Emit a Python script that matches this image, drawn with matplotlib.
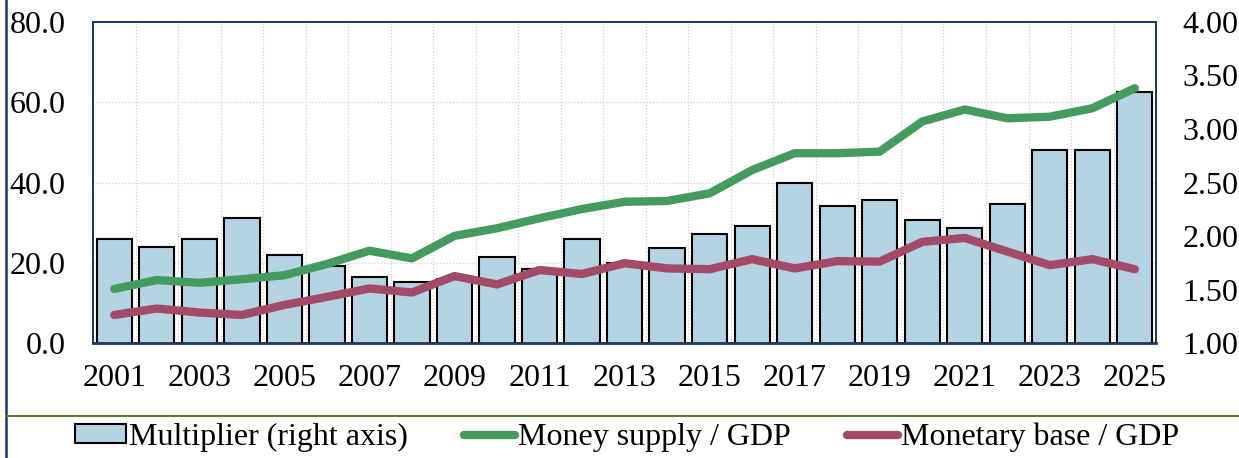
import matplotlib.pyplot as plt
import matplotlib.transforms as mtransforms
from matplotlib.lines import Line2D

# Data
years = list(range(2001, 2026))
multiplier = [1.97, 1.90, 1.975, 2.165, 1.82, 1.72, 1.62, 1.57, 1.60, 1.80,
              1.69, 1.97, 1.745, 1.89, 2.016, 2.093, 2.50, 2.283, 2.333, 2.15,
              2.075, 2.30, 2.80, 2.80, 3.346]
money_supply = [13.5, 15.7, 15.0, 15.9, 16.9, 19.7, 23.0, 21.1, 26.7, 28.6,
                31.1, 33.4, 35.2, 35.4, 37.3, 43.1, 47.3, 47.3, 47.7, 55.2,
                58.2, 56.0, 56.4, 58.5, 63.5]
monetary_base = [7.0, 8.6, 7.6, 7.0, 9.5, 11.5, 13.6, 12.6, 16.7, 14.6,
                 18.2, 17.2, 19.9, 18.6, 18.4, 20.9, 18.6, 20.4, 20.3, 25.2,
                 26.2, 22.8, 19.4, 20.9, 18.4]

left_ticks = [0, 20, 40, 60, 80]
right_ticks = [1.0, 1.5, 2.0, 2.5, 3.0, 3.5, 4.0]
xtick_years = years[::2]

plt.rcParams['font.family'] = ['Liberation Serif', 'DejaVu Serif']

navy = '#1F3864'
green = '#459A5E'
purple = '#A34A68'
bar_fill = '#B4D4E4'

fig = plt.figure(figsize=(12.39, 4.58), dpi=100)
ax = fig.add_axes([0.0751, 0.251, 0.858, 0.701])
ax2 = ax.twinx()
ax.set_zorder(ax2.get_zorder() + 1)
ax.patch.set_visible(False)

# bars on the right axis
ax2.bar(years, multiplier, width=0.83, color=bar_fill, edgecolor='black',
        linewidth=1.5, zorder=3, label='Multiplier (right axis)')
ax2.set_ylim(1.0, 4.0)
ax2.set_yticks(right_ticks)
ax2.set_yticklabels(['%.2f' % t for t in right_ticks])

# lines on the left axis
ax.plot(years, money_supply, color=green, lw=6, solid_capstyle='round',
        solid_joinstyle='round', label='Money supply / GDP')
ax.plot(years, monetary_base, color=purple, lw=6, solid_capstyle='round',
        solid_joinstyle='round', label='Monetary base / GDP')
ax.set_ylim(0, 80)
ax.set_yticks(left_ticks)
ax.set_yticklabels(['%.1f' % t for t in left_ticks])
ax.set_xlim(years[0] - 0.5, years[-1] + 0.5)
ax.set_xticks(xtick_years)
ax.set_xticklabels([str(y) for y in xtick_years])

# dotted grid behind the bars
grid_kw = dict(color='#D0D0D0', lw=0.9, ls=(0, (1, 1.5)), zorder=1)
blend = mtransforms.blended_transform_factory(ax2.transAxes, ax.transData)
for v in left_ticks[1:-1]:
    ax2.plot([0, 1], [v, v], transform=blend, **grid_kw)
for y in years[:-1]:
    ax2.axvline(y + 0.5, **grid_kw)

for a in (ax, ax2):
    a.tick_params(length=0, labelsize=23)
    for s in a.spines.values():
        s.set_color(navy)
        s.set_linewidth(1.3)
ax.spines['bottom'].set_linewidth(2)
ax.tick_params(axis='y', pad=20)
ax.tick_params(axis='x', pad=15)
ax2.tick_params(axis='y', pad=19)

# legend at the bottom
h1, l1 = ax2.get_legend_handles_labels()
h2, l2 = ax.get_legend_handles_labels()
fig.legend(h1 + h2, l1 + l2, loc='center', bbox_to_anchor=(627 / 1239, 1 - 437 / 458),
           ncol=3, frameon=False, fontsize=23, handlelength=1.6, handleheight=0.5,
           handletextpad=0.1, columnspacing=1.75, borderaxespad=0)

# frame lines around the figure
fig.add_artist(Line2D([6 / 1239, 6 / 1239], [0, 1], color=navy, lw=1.8))
fig.add_artist(Line2D([6 / 1239, 1], [1 - 416 / 458, 1 - 416 / 458], color='#5B7F2E', lw=1.5))

fig.savefig('out.png', dpi=100)
